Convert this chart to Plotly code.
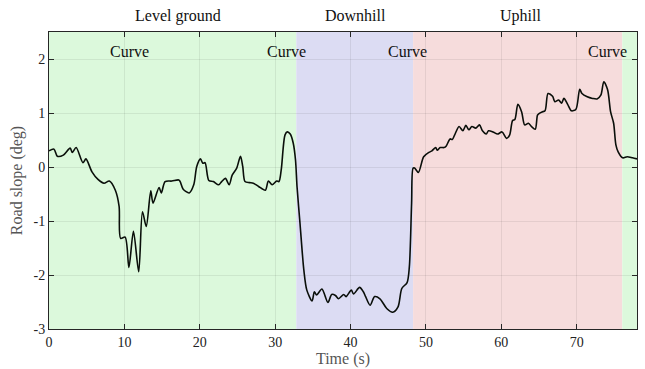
import plotly.graph_objects as go

# ---- data ----
time_s = [0.0, 0.66, 1.1, 1.9, 2.8, 3.1, 3.6, 4.5, 4.9, 5.7, 6.5, 7.3, 8.0, 8.8, 9.3, 9.5,
          10.1, 10.6, 11.2, 11.9, 12.4, 12.9, 13.5, 13.8, 14.6, 14.9, 15.4, 16.3, 17.2, 17.4,
          17.8, 18.6, 19.2, 19.6, 20.1, 20.4, 20.7, 21.2, 21.8, 22.5, 22.9, 23.4, 23.9, 24.3,
          24.9, 25.4, 25.7, 26.0, 26.6, 27.1, 27.8, 28.7, 29.1, 29.6, 30.2, 30.5, 30.8, 31.3,
          31.6, 32.0, 32.4, 32.7, 32.9, 33.3, 33.8, 34.2, 34.9, 35.2, 35.5, 36.2, 37.0, 37.5,
          38.0, 38.4, 39.1, 39.4, 40.1, 40.4, 41.2, 41.7, 42.0, 42.6, 43.2, 43.9, 44.8, 45.6,
          46.3, 46.8, 47.5, 47.8, 48.1, 48.3, 48.5, 49.0, 49.7, 50.4, 50.8, 51.3, 51.5, 51.9,
          52.4, 52.7, 53.2, 53.5, 53.8, 54.4, 54.9, 55.3, 55.7, 56.1, 56.6, 57.1, 57.5, 58.0,
          58.3, 58.9, 59.5, 60.1, 60.7, 61.1, 61.5, 61.8, 62.2, 62.7, 63.1, 63.6, 64.0, 64.5,
          64.8, 65.0, 65.4, 65.8, 66.2, 66.8, 67.1, 67.6, 68.0, 68.3, 68.8, 69.3, 69.9, 70.4,
          70.7, 71.4, 72.1, 72.7, 73.2, 73.6, 74.1, 74.5, 74.9, 75.2, 75.5, 76.1, 76.7, 77.4,
          78.0]
slope_deg = [0.30, 0.33, 0.20, 0.22, 0.35, 0.27, 0.36, 0.08, 0.15, -0.09, -0.23, -0.30, -0.26,
             -0.43, -0.73, -1.32, -1.30, -1.86, -1.19, -1.94, -0.83, -1.10, -0.44, -0.67, -0.38,
             -0.48, -0.27, -0.26, -0.24, -0.27, -0.41, -0.48, -0.33, 0.01, 0.15, 0.07, 0.08,
             -0.25, -0.27, -0.33, -0.27, -0.21, -0.33, -0.15, -0.02, 0.20, 0.01, -0.27, -0.29,
             -0.30, -0.36, -0.43, -0.26, -0.33, -0.26, -0.27, -0.06, 0.59, 0.65, 0.61, 0.44,
             0.13, -0.36, -1.05, -1.90, -2.28, -2.48, -2.31, -2.37, -2.26, -2.51, -2.36, -2.38,
             -2.44, -2.36, -2.40, -2.28, -2.35, -2.23, -2.31, -2.40, -2.56, -2.40, -2.44, -2.62,
             -2.69, -2.59, -2.25, -2.14, -1.85, -0.67, -0.02, -0.02, -0.10, 0.19, 0.27, 0.30,
             0.36, 0.31, 0.36, 0.36, 0.39, 0.52, 0.51, 0.59, 0.75, 0.67, 0.77, 0.69, 0.75, 0.72,
             0.78, 0.67, 0.61, 0.67, 0.65, 0.61, 0.65, 0.53, 0.59, 0.86, 0.88, 1.16, 1.02, 0.78,
             0.81, 0.75, 0.70, 0.96, 0.99, 1.02, 1.04, 1.36, 1.31, 1.21, 1.24, 1.18, 1.27, 1.16,
             1.04, 1.07, 1.44, 1.36, 1.30, 1.27, 1.26, 1.33, 1.58, 1.43, 1.02, 0.81, 0.41, 0.28,
             0.17, 0.19, 0.17, 0.15]

region_starts = [0.0, 32.8, 48.3, 76.05]
region_ends = [32.8, 48.3, 76.05, 78.0]
region_colors = ["#dcf9dc", "#dcdcf3", "#f6dcdc", "#dcf9dc"]

section_labels = ["Level ground", "Downhill", "Uphill"]
section_x = [17.1, 40.6, 62.5]

curve_labels = ["Curve", "Curve", "Curve", "Curve"]
curve_x = [10.7, 31.5, 47.6, 74.1]
curve_y = [2.13, 2.13, 2.13, 2.13]

x_ticks = [0, 10, 20, 30, 40, 50, 60, 70]
y_ticks = [-3, -2, -1, 0, 1, 2]
y_tick_text = ["-3", "-2", "-1", "0", "1", "2"]

FONT = "Times New Roman, Times, Liberation Serif, Noto Serif, DejaVu Serif, serif"

fig = go.Figure()
fig.add_trace(go.Scatter(x=time_s, y=slope_deg, mode="lines",
                         line=dict(color="#0a0f0a", width=1.6, shape="spline", smoothing=0.8),
                         showlegend=False, hoverinfo="skip"))

for x0, x1, c in zip(region_starts, region_ends, region_colors):
    fig.add_shape(type="rect", xref="x", yref="paper", x0=x0, x1=x1, y0=0, y1=1,
                  fillcolor=c, line=dict(width=0), layer="below")

for txt, x in zip(section_labels, section_x):
    fig.add_annotation(x=x, y=1.055, xref="x", yref="paper", text=txt, showarrow=False,
                       font=dict(family=FONT, size=16, color="#111"), yanchor="middle")

for txt, x, y in zip(curve_labels, curve_x, curve_y):
    fig.add_annotation(x=x, y=y, xref="x", yref="y", text=txt, showarrow=False,
                       font=dict(family=FONT, size=16, color="#111"), yanchor="middle")

axis_common = dict(showline=True, linecolor="#262626", linewidth=1, mirror="ticks",
                   ticks="inside", ticklen=5, tickcolor="#262626", showgrid=True,
                   gridcolor="rgba(0,0,0,0.07)", gridwidth=1, zeroline=False, automargin=False,
                   tickfont=dict(family=FONT, size=14, color="#222"))

fig.update_xaxes(range=[0, 78], tickvals=x_ticks,
                 title=dict(text="Time (s)", font=dict(family=FONT, size=16, color="#555"),
                            standoff=0), **axis_common)
fig.update_yaxes(range=[-3, 2.5], tickvals=y_ticks, ticktext=y_tick_text,
                 title=dict(text="Road slope (deg)", font=dict(family=FONT, size=16, color="#555"),
                            standoff=6), **axis_common)

fig.update_layout(width=645, height=369, margin=dict(l=49, r=8, t=32, b=40),
                  paper_bgcolor="white", plot_bgcolor="white", font=dict(family=FONT))

fig.write_html("out.html", config={"displayModeBar": False},
               post_script="document.body.style.margin='0px';")
